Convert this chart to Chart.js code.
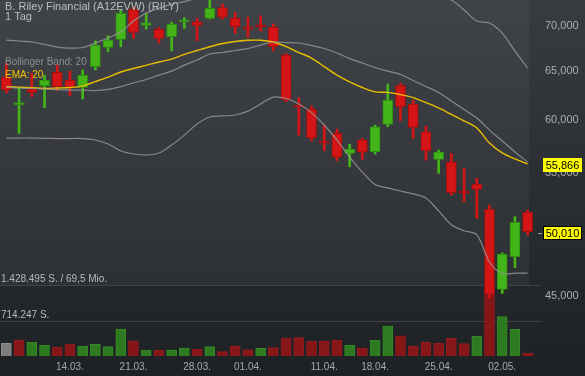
<!DOCTYPE html>
<html>
<head>
<meta charset="utf-8">
<script src="https://cdn.jsdelivr.net/npm/chart.js@4/dist/chart.umd.min.js"></script>
<style>
  html, body { margin: 0; padding: 0; background: #1e2124; }
  .chart-container { position: relative; width: 585px; height: 376px; }
</style>
</head>
<body>
<div class="chart-container"><canvas id="chart" width="585" height="376"></canvas></div>
<script>
const FONT = '"Liberation Sans", Arial, sans-serif';

const dates = [
  "07.03.", "08.03.", "09.03.", "10.03.", "11.03.", "14.03.", "15.03.", "16.03.", "17.03.", "18.03.",
  "21.03.", "22.03.", "23.03.", "24.03.", "25.03.", "28.03.", "29.03.", "30.03.", "31.03.", "01.04.",
  "04.04.", "05.04.", "06.04.", "07.04.", "08.04.", "11.04.", "12.04.", "13.04.", "14.04.", "18.04.",
  "19.04.", "20.04.", "21.04.", "22.04.", "25.04.", "26.04.", "27.04.", "28.04.", "29.04.", "02.05.",
  "03.05.", "04.05.",
];
const shownDates = ["14.03.", "21.03.", "28.03.", "01.04.", "11.04.", "18.04.", "25.04.", "02.05."];

const opens = [64.33, 61.53, 63.09, 63.47, 64.87, 64.05, 63.30, 65.46, 67.57, 68.46, 71.89, 70.04, 69.58, 68.75, 70.45, 70.45, 70.85, 72.11, 70.85, 69.81, 70.04, 69.81, 66.72, 61.43, 61.09, 57.96, 58.71, 56.83, 58.08, 56.98, 59.59, 63.47, 61.60, 58.87, 56.28, 56.06, 53.44, 54.03, 51.87, 45.51, 48.01, 51.62];
const highs = [65.82, 63.30, 64.76, 64.58, 65.64, 65.00, 65.11, 68.30, 68.87, 71.81, 72.20, 71.42, 69.81, 70.39, 70.92, 70.85, 73.35, 72.51, 71.54, 70.97, 71.15, 70.19, 66.91, 62.23, 61.40, 59.52, 59.13, 57.70, 58.24, 59.52, 63.64, 63.71, 62.00, 59.42, 57.14, 56.83, 55.45, 54.56, 52.23, 48.31, 51.25, 51.81];
const lows = [62.74, 58.71, 62.34, 61.22, 62.95, 62.44, 62.10, 65.11, 67.08, 67.63, 68.57, 69.61, 68.08, 67.19, 69.69, 68.30, 70.77, 70.77, 69.13, 68.68, 69.39, 67.19, 61.83, 58.55, 58.01, 57.07, 56.16, 55.60, 56.28, 56.76, 59.35, 59.94, 58.24, 56.21, 55.01, 53.10, 52.52, 51.11, 44.90, 45.21, 47.15, 49.73];
const closes = [63.02, 61.60, 62.78, 64.05, 63.37, 63.30, 64.55, 67.82, 68.38, 71.42, 69.24, 70.34, 68.57, 70.19, 70.57, 70.04, 72.00, 70.97, 69.88, 69.58, 69.88, 67.63, 62.00, 61.27, 58.29, 57.80, 56.48, 57.23, 56.93, 59.35, 62.00, 61.32, 59.29, 57.07, 56.95, 53.30, 53.25, 53.59, 45.14, 48.21, 50.78, 50.01];
const volumes = [257000, 323000, 277000, 222000, 176000, 242000, 202000, 236000, 188000, 546000, 309000, 121000, 115000, 121000, 162000, 135000, 188000, 87000, 202000, 127000, 156000, 168000, 364000, 370000, 297000, 297000, 317000, 222000, 162000, 317000, 606000, 410000, 202000, 277000, 263000, 358000, 249000, 404000, 1428495, 794000, 539000, 55000];

const bollUpper = [68.38, 68.27, 68.16, 67.88, 67.60, 67.49, 67.55, 68.05, 68.60, 69.27, 70.53, 71.46, 72.04, 72.51, 72.81, 73.23, 73.59, 74.07, 74.56, 74.93, 75.30, 75.54, 75.66, 75.66, 75.66, 75.54, 75.42, 75.30, 75.17, 74.93, 74.68, 74.44, 74.07, 73.71, 73.35, 72.99, 71.81, 70.53, 70.30, 69.16, 67.16, 65.32];
const bollMiddle = [63.33, 63.23, 63.18, 63.12, 63.07, 63.02, 63.02, 62.97, 63.09, 63.38, 63.75, 64.11, 64.58, 65.00, 65.64, 66.18, 66.84, 67.00, 67.22, 67.44, 67.82, 68.16, 68.10, 68.05, 67.77, 67.44, 66.95, 66.34, 65.86, 65.38, 65.00, 64.64, 64.00, 63.38, 62.77, 61.90, 61.04, 60.20, 59.03, 57.99, 56.96, 56.03];
const bollLower = [58.27, 58.27, 58.27, 58.24, 58.22, 58.22, 58.22, 58.08, 57.70, 57.05, 56.77, 56.68, 56.86, 57.61, 58.55, 59.62, 60.31, 60.41, 60.50, 60.89, 61.60, 62.30, 62.15, 61.60, 60.74, 59.52, 58.08, 56.49, 55.12, 54.01, 53.71, 53.44, 53.19, 52.83, 51.73, 50.57, 50.08, 49.76, 47.59, 46.69, 46.73, 46.74];
const ema20 = [63.36, 63.30, 63.25, 63.19, 63.23, 63.28, 63.43, 63.89, 64.37, 64.90, 65.27, 65.61, 65.97, 66.29, 66.79, 67.22, 67.64, 67.99, 68.22, 68.35, 68.36, 68.16, 67.66, 67.00, 66.40, 65.48, 64.58, 63.87, 63.28, 62.83, 62.78, 62.55, 62.25, 61.74, 61.20, 60.56, 59.92, 59.23, 57.80, 56.87, 56.31, 55.866];

const priceTicks = [45, 55, 60, 65, 70];
const volMax = 1428495;
const volMaxTurnover = "69,5 Mio.";
const lastPrice = closes[closes.length - 1];
const lastEma = ema20[ema20.length - 1];

const fmtPrice = (v) => v.toFixed(3).replace(".", ",");
const fmtVol = (v) => String(Math.floor(v)).replace(/\B(?=(\d{3})+(?!\d))/g, ".");

// colours
const upFill = "#43b519";
const upBorder = "#2f8d12";
const downFill = "#d51515";
const downBorder = "#a20e0e";

const isUp = closes.map((c, i) => c >= opens[i]);
const bodyColors = isUp.map((u) => (u ? upFill : downFill));
const bodyBorders = isUp.map((u) => (u ? upBorder : downBorder));
const volColors = closes.map((c, i) => {
  if (i === 0) return "#7e7e7e";
  return c >= closes[i - 1] ? "#2e7a20" : "#861618";
});
const volBorders = closes.map((c, i) => {
  if (i === 0) return "#8e8e8e";
  return c >= closes[i - 1] ? "#358a25" : "#971b1d";
});

Chart.defaults.font.family = FONT;

const decorations = {
  id: "decorations",
  beforeDraw(chart) {
    const { ctx, width, height, scales } = chart;
    ctx.save();
    const g = ctx.createLinearGradient(0, 0, 0, height);
    g.addColorStop(0, "#383c40");
    g.addColorStop(0.75, "#24272b");
    g.addColorStop(1, "#1e2124");
    ctx.fillStyle = g;
    ctx.fillRect(0, 0, width, height);

    const yMax = scales.yv.getPixelForValue(volMax);
    const yHalf = scales.yv.getPixelForValue(Math.floor(volMax / 2));
    ctx.fillStyle = "rgba(255,255,255,0.045)";
    ctx.fillRect(0, 0, 529, yMax);

    ctx.strokeStyle = "#3f4246";
    ctx.lineWidth = 1;
    [yMax, yHalf].forEach((y) => {
      ctx.beginPath();
      ctx.moveTo(0, Math.round(y) + 0.5);
      ctx.lineTo(541, Math.round(y) + 0.5);
      ctx.stroke();
    });

    ctx.font = "10px " + FONT;
    ctx.fillStyle = "#b9b9b9";
    ctx.textBaseline = "alphabetic";
    ctx.fillText(fmtVol(volMax) + " S. / " + volMaxTurnover, 1, Math.round(yMax) - 3);
    ctx.fillText(fmtVol(volMax / 2) + " S.", 1, Math.round(yHalf) - 3);
    ctx.restore();
  },
  afterDraw(chart) {
    const { ctx, scales } = chart;
    ctx.save();
    ctx.textBaseline = "alphabetic";
    ctx.font = "11px " + FONT;
    ctx.fillStyle = "#bdbdbd";
    ctx.fillText("B. Riley Financial (A12EVW) (RILY)", 5, 10);
    ctx.fillText("1 Tag", 5, 20);

    ctx.font = "10px " + FONT;
    ctx.fillStyle = "#8e8e8e";
    ctx.fillText("Bollinger Band: 20", 5, 65);
    ctx.fillStyle = "#f2c400";
    ctx.fillText("EMA: 20", 5, 78);

    const drawTag = (value, border) => {
      const y = Math.round(scales.y.getPixelForValue(value));
      ctx.fillStyle = "#ffff00";
      ctx.fillRect(543, y - 6, 39, 14);
      if (border) {
        ctx.strokeStyle = "#000";
        ctx.lineWidth = 1;
        ctx.strokeRect(543.5, y - 5.5, 38, 13);
        ctx.strokeStyle = "#9a9a9a";
        ctx.beginPath();
        ctx.moveTo(538, y + 1.5);
        ctx.lineTo(542, y + 1.5);
        ctx.stroke();
      }
      ctx.fillStyle = "#000";
      ctx.font = "11px " + FONT;
      ctx.textAlign = "center";
      ctx.textBaseline = "middle";
      ctx.fillText(fmtPrice(value), 562.5, y + 1.5);
    };
    drawTag(lastEma, false);
    drawTag(lastPrice, true);
    ctx.restore();
  },
};

const lineSet = (data, color, width) => ({
  type: "line",
  data,
  yAxisID: "y",
  borderColor: color,
  borderWidth: width,
  pointRadius: 0,
  tension: 0.3,
  fill: false,
  order: 0,
});

const ctx = document.querySelector("#chart").getContext("2d");

const chart = new Chart(ctx, {
  type: "bar",
  data: {
    labels: dates,
    datasets: [
      lineSet(bollUpper, "rgba(150,150,150,0.85)", 1.2),
      lineSet(bollMiddle, "rgba(150,150,150,0.85)", 1.2),
      lineSet(bollLower, "rgba(150,150,150,0.85)", 1.2),
      lineSet(ema20, "#e9be00", 1.4),
      {
        label: "Body",
        data: opens.map((o, i) => [o, closes[i]]),
        yAxisID: "y",
        backgroundColor: bodyColors,
        borderColor: bodyBorders,
        borderWidth: 1,
        borderSkipped: false,
        barThickness: 10,
        minBarLength: 2,
        grouped: false,
        order: 1,
      },
      {
        label: "Wick",
        data: lows.map((l, i) => [l, highs[i]]),
        yAxisID: "y",
        backgroundColor: bodyColors,
        borderWidth: 0,
        barThickness: 2,
        grouped: false,
        order: 2,
      },
      {
        label: "Volume",
        data: volumes,
        yAxisID: "yv",
        backgroundColor: volColors,
        borderColor: volBorders,
        borderWidth: 1,
        borderSkipped: "bottom",
        barThickness: 10,
        grouped: false,
        order: 3,
      },
    ],
  },
  options: {
    responsive: false,
    animation: false,
    layout: { padding: 0 },
    plugins: {
      legend: { display: false },
      tooltip: { enabled: false },
    },
    scales: {
      x: {
        type: "category",
        offset: true,
        grid: { display: false, drawTicks: false },
        border: { display: false },
        ticks: {
          autoSkip: false,
          maxRotation: 0,
          padding: 5,
          color: "#a9a9a9",
          font: { size: 10 },
          callback: function (value) {
            const label = this.getLabelForValue(value);
            return shownDates.includes(label) ? label : "";
          },
        },
        afterFit: (scale) => {
          scale.height = 20;
          scale.paddingLeft = 0;
          scale.paddingRight = 0;
        },
      },
      y: {
        type: "logarithmic",
        position: "right",
        min: 40.82,
        max: 73.0,
        grid: { display: false, drawTicks: false },
        border: { display: false },
        ticks: {
          padding: 11,
          color: "#adadad",
          font: { size: 11 },
          callback: (v) => fmtPrice(v),
        },
        afterBuildTicks: (scale) => {
          scale.ticks = priceTicks.map((v) => ({ value: v }));
        },
        afterFit: (scale) => {
          scale.width = 51;
          scale.paddingTop = 0;
          scale.paddingBottom = 0;
        },
      },
      yv: {
        type: "linear",
        display: false,
        min: 0,
        max: volMax * 5.035,
      },
    },
  },
  plugins: [decorations],
});
</script>
</body>
</html>
